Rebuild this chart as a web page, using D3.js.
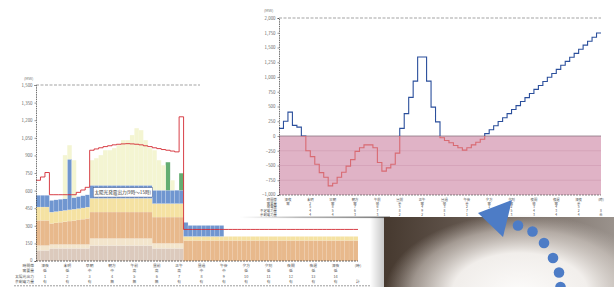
<!DOCTYPE html>
<html>
<head>
<meta charset="utf-8">
<script src="https://cdn.jsdelivr.net/npm/d3@7"></script>
<style>
  body { margin: 0; background: #fff; }
  svg { display: block; }
  text { font-family: "Noto Sans CJK JP", "Noto Sans", sans-serif; }
</style>
</head>
<body>
<svg id="chart" width="614" height="287"></svg>
<script>
// ---- left chart (supply stack, MW) ----
const leftTicks = [0, 150, 300, 450, 600, 750, 900, 1050, 1200, 1350, 1500];
const baseLoad = [90, 90, 90, 107, 107, 107, 107, 107, 107, 107, 107, 107,
  132, 132, 132, 132, 132, 132, 132, 132, 132, 132, 132, 132, 132, 132,
  107, 107, 107, 107, 107, 107, 107,
  0, 0, 0, 0, 0, 0, 0, 0, 0, 0, 0, 0, 0, 0, 0, 0, 0, 0, 0, 0,
  0, 0, 0, 0, 0, 0, 0, 0, 0, 0, 0, 0, 0, 0, 0, 0, 0, 0, 0, 0, 0];
const creamLoad = [42, 42, 42, 34, 34, 34, 34, 34, 34, 34, 34, 34,
  60, 60, 60, 60, 60, 60, 60, 60, 60, 60, 60, 60, 60, 60,
  43, 43, 43, 43, 43, 43, 43,
  0, 0, 0, 0, 0, 0, 0, 0, 0, 0, 0, 0, 0, 0, 0, 0, 0, 0, 0, 0,
  0, 0, 0, 0, 0, 0, 0, 0, 0, 0, 0, 0, 0, 0, 0, 0, 0, 0, 0, 0, 0];
const tanLoad = [214, 214, 214, 179, 184, 189, 194, 199, 204, 209, 215, 222,
  225, 225, 225, 225, 225, 225, 225, 225, 225, 225, 225, 225, 225, 225,
  224, 224, 224, 224, 224, 224, 224,
  175, 175, 175, 175, 175, 175, 175, 175, 175, 175, 175, 175, 175, 175, 175, 175, 175, 175, 175, 175,
  175, 175, 175, 175, 175, 175, 175, 175, 175, 175, 175, 175, 175, 175, 175, 175, 175, 175, 175];
const yellowLoad = [114, 114, 114, 96, 96, 96, 96, 96, 96, 96, 96, 96,
  117, 117, 117, 117, 117, 117, 117, 117, 117, 117, 117, 117, 117, 117,
  115, 115, 115, 115, 115, 115, 115,
  34, 34, 34, 34, 34, 34, 34, 34, 34, 34, 34, 34, 34, 34, 34, 34, 34, 34, 34, 34,
  34, 34, 34, 34, 34, 34, 34, 34, 34, 34, 34, 34, 34, 34, 34, 34, 34, 34, 34];
const blueLoad = [100, 100, 100, 100, 100, 100, 100, 431, 100, 102, 104, 105,
  111, 111, 111, 111, 111, 111, 111, 111, 111, 111, 111, 111, 111, 111,
  114, 114, 114, 114, 114, 114, 114,
  120, 94, 94, 94, 94, 94, 94, 94, 94, 0, 0, 0, 0, 0, 0, 0, 0, 0, 0, 0,
  0, 0, 0, 0, 0, 0, 0, 0, 0, 0, 0, 0, 0, 0, 0, 0, 0, 0, 0];
const greenLoad = [0, 0, 0, 0, 0, 0, 0, 0, 0, 0, 0, 0,
  0, 0, 0, 0, 0, 0, 0, 0, 0, 0, 0, 0, 0, 0,
  0, 0, 0, 239, 0, 0, 145,
  0, 0, 0, 0, 0, 0, 0, 0, 0, 0, 0, 0, 0, 0, 0, 0, 0, 0, 0, 0,
  0, 0, 0, 0, 0, 0, 0, 0, 0, 0, 0, 0, 0, 0, 0, 0, 0, 0, 0];
const solarLoad = [0, 0, 0, 0, 0, 0, 371, 120, 318, 0, 0, 0,
  214, 231, 257, 299, 299, 317, 342, 385, 385, 428, 487, 470, 385, 317,
  341, 256, 213, 0, 85, 0, 0,
  0, 0, 0, 0, 0, 0, 0, 0, 0, 0, 0, 0, 0, 0, 0, 0, 0, 0, 0, 0,
  0, 0, 0, 0, 0, 0, 0, 0, 0, 0, 0, 0, 0, 0, 0, 0, 0, 0, 0];
const demandLine = [688, 716, 754, 565, 565, 565, 565, 565, 565, 585, 605, 628,
  944, 955, 965, 975, 982, 990, 995, 998, 1000, 998, 995, 990, 982, 975,
  965, 958, 950, 944, 937, 930, 1229,
  269, 269, 269, 269, 269, 269, 269, 269, 269, 269, 269, 269, 269, 269, 269, 269, 269, 269, 269, 269,
  269, 269, 269, 269, 269, 269, 269, 269, 269, 269, 269, 269, 269, 269, 269, 269, 269, 269, 269];
const leftRowNames = ['時間帯', '需要量', '太陽光出力', '余剰電力量'];
const leftRow1 = ['深夜', '未明', '早朝', '朝方', '午前', '昼前', '正午', '昼過', '午後', '夕方', '夕刻', '夜間', '夜遅', '深夜', '(時)'];
const leftRow2 = ['低', '低', '中', '中', '高', '高', '高', '中', '中', '低', '低', '低', '低', '低', ''];
const leftRow3 = ['1', '2', '3', '4', '5', '6', '7', '8', '9', '10', '11', '12', '13', '14', ''];
const leftRow4 = ['有', '有', '有', '無', '無', '無', '有', '有', '有', '有', '有', '有', '有', '有', '計'];

// ---- right chart (net balance, MW) ----
const rightTicks = [-1000, -750, -500, -250, 0, 250, 500, 750, 1000, 1250, 1500, 1750, 2000];
const netBalance = [130, 250, 405, 180, 150, 0,
  -250, -350, -480, -620, -700, -845, -800, -700, -615, -510, -400, -260, -200, -150, -150,
  -200, -450, -595, -540, -480, -290,
  130, 380, 655, 930, 1340, 1340, 930, 490, 240,
  -30, -75, -115, -160, -200, -240, -200, -150, -105, -55,
  40, 105, 175, 245, 310, 380, 450, 515, 585, 650, 720, 790, 855, 925, 995,
  1060, 1130, 1200, 1265, 1335, 1400, 1470, 1540, 1605, 1675, 1745];
const rightRowNames = ['時間帯', '需要量', '発電量', '不足電力量', '余剰電力量'];
const rightRow1 = ['深夜', '未明', '早朝', '朝方', '午前', '昼前', '正午', '昼過', '午後', '夕方', '夕刻', '夜間', '夜遅', '深夜', '(時)'];
const rightRow2 = ['需', '2', '需', '需', '発', '余', '需', '発', '余', '需', '需', '発', '需', '余', ''];
const rightRow3 = ['', '5', '8', '7', '6', '5', '4', '3', '2', '1', '2', '3', '4', '5', ''];
const rightRow4 = ['', '4', '5', '6', '7', '8', '9', '8', '7', '6', '5', '4', '3', '2', '8'];
const rightRow5 = ['', '4', '4', '3', '3', '2', '2', '1', '1', '2', '3', '3', '4', '4', '合'];

const svg = d3.select('#chart');
const defs = svg.append('defs');
const nSteps = netBalance.length;

// ================= LEFT CHART =================
const xL = d3.scaleLinear().domain([0, nSteps]).range([36, 358]);
const yL = d3.scaleLinear().domain([0, 1500]).range([261, 85]);

const keys = ['base', 'cream', 'tan', 'yellow', 'blue', 'green', 'solar'];
const colors = {
  base: '#dccabd', cream: '#f3e5cc', tan: '#e8b98c', yellow: '#f5e2a2',
  blue: '#7096d0', green: '#64ad72', solar: '#f4f5d2'
};
const rows = d3.range(nSteps).map(i => ({
  i, base: baseLoad[i], cream: creamLoad[i], tan: tanLoad[i], yellow: yellowLoad[i],
  blue: blueLoad[i], green: greenLoad[i], solar: solarLoad[i]
}));
const series = d3.stack().keys(keys)(rows);

const left = svg.append('g');

left.selectAll('g.layer')
  .data(series)
  .join('g')
  .attr('fill', d => colors[d.key])
  .selectAll('rect')
  .data(d => d.filter(p => p[1] > p[0]))
  .join('rect')
  .attr('x', d => xL(d.data.i))
  .attr('width', d => xL(d.data.i + 1) - xL(d.data.i))
  .attr('y', d => yL(d[1]))
  .attr('height', d => yL(d[0]) - yL(d[1]))
  .attr('stroke', d => d.data.blue && d[1] - d[0] === d.data.blue ? 'rgba(255,255,255,0.4)' : 'rgba(255,255,255,0.15)')
  .attr('stroke-width', 0.4);

// top grid line
left.append('line')
  .attr('x1', xL(0)).attr('x2', 200)
  .attr('y1', yL(1500)).attr('y2', yL(1500))
  .attr('stroke', '#666').attr('stroke-width', 0.6).attr('stroke-dasharray', '3,1.5');

// annotation box
const box = left.append('g');
box.append('rect')
  .attr('x', xL(12.8)).attr('y', yL(625))
  .attr('width', xL(26) - xL(12.8)).attr('height', yL(545) - yL(625))
  .attr('fill', '#fff').attr('stroke', '#4b5f8e').attr('stroke-width', 0.5);
box.append('text')
  .attr('x', (xL(12.8) + xL(26)) / 2).attr('y', yL(585) + 1.6)
  .attr('text-anchor', 'middle').attr('font-size', 4.6).attr('fill', '#333')
  .text('太陽光発電出力(9時〜15時)');

// demand line
const stepLineL = d3.line()
  .x(d => xL(d[0])).y(d => yL(d[1]))
  .curve(d3.curveStepAfter);
const demandPts = demandLine.map((v, i) => [i, v]).concat([[nSteps, demandLine[nSteps - 1]]]);
left.append('path')
  .attr('d', stepLineL(demandPts))
  .attr('fill', 'none').attr('stroke', '#d42a33').attr('stroke-width', 0.9);

// axes
const axL = left.append('g')
  .attr('transform', `translate(${xL(0)},0)`)
  .call(d3.axisLeft(yL).tickValues(leftTicks).tickFormat(d3.format(',')).tickSize(1.5).tickPadding(2));
axL.select('.domain').attr('stroke', '#333').attr('stroke-width', 0.7).attr('stroke-dasharray', '1.5,0.8');
axL.selectAll('.tick line').attr('stroke', '#333').attr('stroke-width', 0.5);
axL.selectAll('.tick text').attr('font-size', 4.4).attr('fill', '#666').attr('font-family', 'DejaVu Sans');
axL.selectAll('.tick text').filter(d => d === 0).attr('dy', '0.1em');
left.append('text').attr('x', 24).attr('y', 80).attr('font-size', 4).attr('fill', '#777').text('(MW)');

left.append('line')
  .attr('x1', xL(0)).attr('x2', xL(nSteps))
  .attr('y1', yL(0)).attr('y2', yL(0))
  .attr('stroke', '#444').attr('stroke-width', 0.8).attr('stroke-dasharray', '2,1');

// left table
const leftRowsY = [267, 272.3, 277.6, 282.9];
const leftRowsData = [leftRow1, leftRow2, leftRow3, leftRow4];
leftRowNames.forEach((name, r) => {
  left.append('text').attr('x', 34).attr('y', leftRowsY[r])
    .attr('text-anchor', 'end').attr('font-size', 3.8).attr('fill', '#555').text(name);
  left.selectAll(null)
    .data(leftRowsData[r])
    .join('text')
    .attr('x', (d, k) => xL(2 + 5 * k))
    .attr('y', leftRowsY[r])
    .attr('text-anchor', 'middle').attr('font-size', 3.8).attr('fill', '#555')
    .text(d => d);
});
left.append('line')
  .attr('x1', 14).attr('x2', 370).attr('y1', 285.8).attr('y2', 285.8)
  .attr('stroke', '#555').attr('stroke-width', 0.6).attr('stroke-dasharray', '2,1');

// ================= RIGHT PAPER =================
svg.append('rect').attr('x', 200).attr('y', 0).attr('width', 414).attr('height', 217).attr('fill', '#fff');

const pg = defs.append('linearGradient').attr('id', 'edgeShade').attr('x1', 0).attr('x2', 1);
pg.append('stop').attr('offset', '0%').attr('stop-color', '#999').attr('stop-opacity', 0);
pg.append('stop').attr('offset', '40%').attr('stop-color', '#888').attr('stop-opacity', 0.6);
pg.append('stop').attr('offset', '100%').attr('stop-color', '#666').attr('stop-opacity', 0.9);
svg.append('rect').attr('x', 240).attr('y', 216.5).attr('width', 150).attr('height', 1.6).attr('fill', 'url(#edgeShade)');

// ================= RIGHT CHART =================
const xR = d3.scaleLinear().domain([0, nSteps]).range([279, 601]);
const yR = d3.scaleLinear().domain([-1000, 2000]).range([195, 18]);
const right = svg.append('g');

right.append('rect')
  .attr('x', xR(0)).attr('y', yR(0))
  .attr('width', xR(nSteps) - xR(0)).attr('height', yR(-1000) - yR(0))
  .attr('fill', '#e0b3c6');

right.selectAll('line.pgrid')
  .data(rightTicks.filter(t => t < 0 && t > -1000))
  .join('line')
  .attr('x1', xR(0)).attr('x2', xR(nSteps))
  .attr('y1', d => yR(d)).attr('y2', d => yR(d))
  .attr('stroke', '#cf9bb2').attr('stroke-width', 0.6);

right.append('line')
  .attr('x1', xR(0)).attr('x2', xR(nSteps))
  .attr('y1', yR(2000)).attr('y2', yR(2000))
  .attr('stroke', '#666').attr('stroke-width', 0.6).attr('stroke-dasharray', '3,1.5');

right.append('line')
  .attr('x1', xR(0)).attr('x2', xR(nSteps))
  .attr('y1', yR(0)).attr('y2', yR(0))
  .attr('stroke', '#8a7480').attr('stroke-width', 0.8);

defs.append('clipPath').attr('id', 'posClip')
  .append('rect').attr('x', 0).attr('y', 0).attr('width', 614).attr('height', yR(0));
defs.append('clipPath').attr('id', 'negClip')
  .append('rect').attr('x', 0).attr('y', yR(0)).attr('width', 614).attr('height', 287 - yR(0));

const stepLineR = d3.line()
  .x(d => xR(d[0])).y(d => yR(d[1]))
  .curve(d3.curveStepAfter);
const netPts = netBalance.map((v, i) => [i, v]).concat([[nSteps, netBalance[nSteps - 1]]]);
right.append('path')
  .attr('d', stepLineR(netPts)).attr('clip-path', 'url(#posClip)')
  .attr('fill', 'none').attr('stroke', '#2b4f9c').attr('stroke-width', 1.1);
right.append('path')
  .attr('d', stepLineR(netPts)).attr('clip-path', 'url(#negClip)')
  .attr('fill', 'none').attr('stroke', '#d86a72').attr('stroke-width', 1.1);

const axR = right.append('g')
  .attr('transform', `translate(${xR(0)},0)`)
  .call(d3.axisLeft(yR).tickValues(rightTicks).tickFormat(d3.format(',')).tickSize(1.5).tickPadding(2));
axR.select('.domain').attr('stroke', '#333').attr('stroke-width', 0.7).attr('stroke-dasharray', '1.5,0.8');
axR.selectAll('.tick line').attr('stroke', '#333').attr('stroke-width', 0.5);
axR.selectAll('.tick text').attr('font-size', 4.4).attr('fill', '#666').attr('font-family', 'DejaVu Sans');
axR.selectAll('.tick text').filter(d => d === -1000).attr('dy', '0.1em');
right.append('text').attr('x', 264).attr('y', 12).attr('font-size', 4).attr('fill', '#777').text('(MW)');

right.append('line')
  .attr('x1', xR(0)).attr('x2', xR(nSteps))
  .attr('y1', yR(-1000)).attr('y2', yR(-1000))
  .attr('stroke', '#555').attr('stroke-width', 0.7).attr('stroke-dasharray', '2,1');

const rightRowsY = [200.8, 204.5, 208.2, 211.9, 215.6];
const rightRowsData = [rightRow1, rightRow2, rightRow3, rightRow4, rightRow5];
rightRowNames.forEach((name, r) => {
  right.append('text').attr('x', 277).attr('y', rightRowsY[r])
    .attr('text-anchor', 'end').attr('font-size', 3.4).attr('fill', '#555').text(name);
  right.selectAll(null)
    .data(rightRowsData[r])
    .join('text')
    .attr('x', (d, k) => xR(2 + 5 * k))
    .attr('y', rightRowsY[r])
    .attr('text-anchor', 'middle').attr('font-size', 3.4).attr('fill', '#555')
    .text(d => d);
});

// ================= SHADOW + ARROW =================
const shade = svg.append('g');
const bg = defs.append('linearGradient').attr('id', 'baseShade').attr('x1', 0).attr('x2', 1);
bg.append('stop').attr('offset', '0%').attr('stop-color', '#46392f');
bg.append('stop').attr('offset', '50%').attr('stop-color', '#6e625a');
bg.append('stop').attr('offset', '100%').attr('stop-color', '#9a928c');
shade.append('rect').attr('x', 384).attr('y', 217).attr('width', 230).attr('height', 70).attr('fill', 'url(#baseShade)');

const wg = defs.append('radialGradient').attr('id', 'lightBlob');
wg.append('stop').attr('offset', '0%').attr('stop-color', '#fcfbfa').attr('stop-opacity', 1);
wg.append('stop').attr('offset', '50%').attr('stop-color', '#f5f2ef').attr('stop-opacity', 0.97);
wg.append('stop').attr('offset', '80%').attr('stop-color', '#ddd6d0').attr('stop-opacity', 0.55);
wg.append('stop').attr('offset', '100%').attr('stop-color', '#c8c0ba').attr('stop-opacity', 0);
shade.append('ellipse').attr('cx', 520).attr('cy', 292).attr('rx', 135).attr('ry', 78).attr('fill', 'url(#lightBlob)');

const sg = defs.append('linearGradient').attr('id', 'sideShade').attr('x1', 0).attr('x2', 1);
sg.append('stop').attr('offset', '0%').attr('stop-color', '#000').attr('stop-opacity', 0);
sg.append('stop').attr('offset', '100%').attr('stop-color', '#000').attr('stop-opacity', 0.22);
svg.append('rect').attr('x', 370).attr('y', 217).attr('width', 14).attr('height', 70).attr('fill', 'url(#sideShade)');

const arrow = svg.append('g').attr('fill', '#4d7cc6');
[[518, 225.5], [532.5, 231.5], [544, 243], [553, 258], [559, 272.5], [560.5, 287]]
  .forEach(([cx, cy]) => arrow.append('circle').attr('cx', cx).attr('cy', cy).attr('r', 5.3));
arrow.append('path').attr('d', 'M478,213 L512,200 L503,237 Z');
</script>
</body>
</html>
